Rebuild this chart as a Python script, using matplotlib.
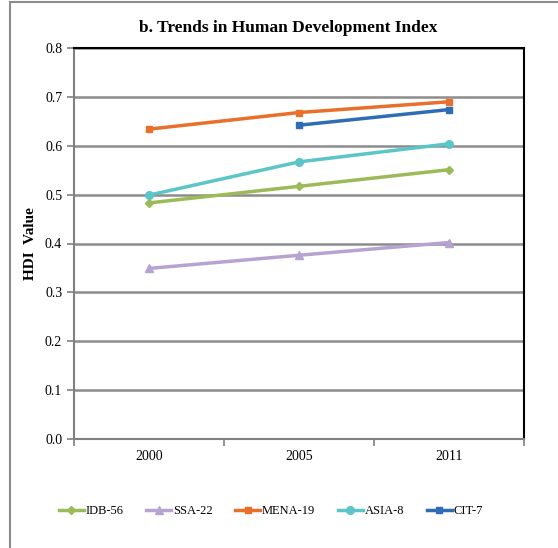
import numpy as np
import matplotlib
matplotlib.use("Agg")
from matplotlib import pyplot as plt
from matplotlib.patches import Rectangle

# Datos
years = ["2000", "2005", "2011"]
idb_56 = [0.483, 0.517, 0.551]
ssa_22 = [0.349, 0.376, 0.402]
mena_19 = [0.634, 0.668, 0.690]
asia_8 = [0.499, 0.567, 0.604]
cit_7 = [np.nan, 0.642, 0.674]

series = [
    ("IDB-56", idb_56, "#9BBB59", "D", 4.5),
    ("SSA-22", ssa_22, "#B7A3D0", "^", 5.5),
    ("MENA-19", mena_19, "#E8702A", "s", 5),
    ("ASIA-8", asia_8, "#5BC5C8", "o", 5.5),
    ("CIT-7", cit_7, "#2E6DB4", "s", 5),
]

plt.rcParams['font.family'] = ['Liberation Serif', 'DejaVu Serif']

fig = plt.figure(figsize=(5.58, 5.48), dpi=100)
ax = fig.add_axes([74 / 558, 1 - 439 / 548, 450 / 558, 391 / 548])

# Borde de la figura
fig.patches.append(Rectangle((10 / 558, -0.05), 1.0, 1 - 2 / 548 + 0.05,
                             transform=fig.transFigure, fill=False,
                             edgecolor="#8c8c8c", linewidth=1.5))

x = np.arange(len(years))
for nombre, valores, color, marcador, ms in series:
    ax.plot(x, valores, color=color, marker=marcador, markersize=ms,
            linewidth=2.5, label=nombre)

ax.set_xlim(-0.5, 2.5)
ax.set_ylim(0, 0.8)
ax.set_yticks(np.arange(0, 0.81, 0.1))
ax.set_yticklabels([f"{v:.1f}" for v in np.arange(0, 0.81, 0.1)], fontsize=10)
ax.set_xticks(x)
ax.set_xticklabels(years, fontsize=10)
ax.set_xticks([-0.5, 0.5, 1.5, 2.5], minor=True)
ax.tick_params(axis="x", which="major", length=0, pad=8)
ax.tick_params(axis="x", which="minor", length=5, color="#808080", width=1.2)
ax.tick_params(axis="y", length=5, color="#808080", width=1.2)
ax.grid(axis="y", color="#8c8c8c", linewidth=1.8)
ax.set_axisbelow(True)

for lado in ["top", "right"]:
    ax.spines[lado].set_color("black")
    ax.spines[lado].set_linewidth(1.5)
for lado in ["left", "bottom"]:
    ax.spines[lado].set_color("#808080")
    ax.spines[lado].set_linewidth(1.5)

ax.set_ylabel("HDI  Value", fontsize=11, fontweight="bold", labelpad=6)
fig.text(288 / 558, 1 - 28 / 548, "b. Trends in Human Development Index",
         ha="center", va="center", fontsize=12.5, fontweight="bold")

fig.legend(loc="center", bbox_to_anchor=(271 / 558, 1 - 511 / 548), ncol=5,
           frameon=False, fontsize=9, handlelength=2.0, columnspacing=1.8,
           handletextpad=0.15)

fig.savefig("out.png", dpi=100)
